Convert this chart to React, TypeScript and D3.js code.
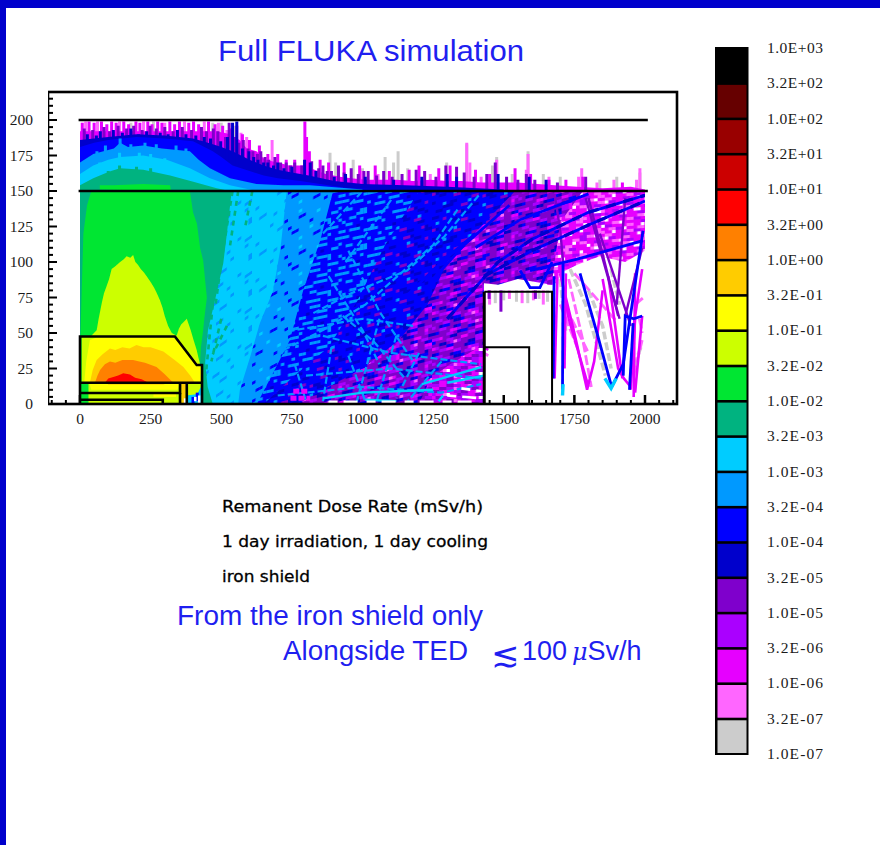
import React from "react";
import * as d3 from "d3";

const width = 880;
const height = 845;

type Pt = [number, number];

const scaleLabels = ["1.0E+03","3.2E+02","1.0E+02","3.2E+01","1.0E+01","3.2E+00","1.0E+00","3.2E-01","1.0E-01","3.2E-02","1.0E-02","3.2E-03","1.0E-03","3.2E-04","1.0E-04","3.2E-05","1.0E-05","3.2E-06","1.0E-06","3.2E-07","1.0E-07"];
const scaleColors = ["#000000","#660000","#990000","#cc0000","#ff0000","#ff8000","#ffcc00","#ffff00","#ccff00","#00e633","#00b380","#00ccff","#0099ff","#0000ff","#0000cc","#7f00cc","#aa00ff","#e600ff","#ff66ff","#cccccc"];

const RED = "#ff0000", ORANGE = "#ff8000", AMBER = "#ffcc00", YELLOW = "#ffff00", LIME = "#ccff00",
  GREEN = "#00e633", TEAL = "#00b380", CYAN = "#00ccff", SKY = "#0099ff", BLUE = "#0000ff",
  NAVY = "#0000cc", PURPLE = "#7f00cc", VIOLET = "#aa00ff", MAGENTA = "#e600ff", PINK = "#ff66ff", GRAY = "#cccccc";

// grain of the noisy MC cells, one letter per bin
const grainColors: Record<string, string> = { c: CYAN, s: SKY, b: BLUE, n: NAVY, p: PURPLE, v: VIOLET, m: MAGENTA, k: PINK, g: GRAY, w: "#ffffff" };
const grainCyan = [
  "cccccccccccccccccccscccc","ccccscccccccccccccccccss","ccccccccccsscccccccccccc","csccccccccccccccscccccc",
  "ccccccsscccccccccccccccc","cccccccccccccsccccssccc","sccccccccccccccccccccccc","cccccccccsscccccccsccccc",
  "ccccccccccccccscccccccccc","ccsscccccccccccccccccscc","cccccccccccsscccccccccc","cccccccccccccccccccscccc",
];
const grainSky = [
  "sssssssssbsssscssssssss","ssscssssssssssssssbbsss","ssssssbbsssssssssssssss","sssssssssssssscssssssbs",
  "sbssssssssbsssssssssss","ssssscssssssssbbssssss","ssssssssssssssssssscsss","ssbbsssssssbsssssssssss",
  "sssssssscssssssssbsssss","ssssssssssssbbsssssssss","sbsssssbssssssssscsssss","ssssssssssssssssssssbss",
];
const grainBlue = [
  "bbbsssbbbbbsbbbbssssbbbb","bssbbbbbsssbbbbbbbbsbbsb","bbbbsbbbbbbbbssssbbbbbbs","ssbbbbssssbbbbbbbbbsssbb",
  "bbbnbbbbbbsbbbsssbbbbbbb","bsssbbbsbbbbbbbbbbbsbbss","bbbbbssssbbbbnbbsssbbbbb","sbbbbbbbbbbssbbbbbbbbsss",
  "bbsssbbbbsbbbbbssssbbbbb","bbbbbbsbbbbbsssbbbbbbbsb","ssbbbbbbsssbbbbbbnbbssbb","bbbbssbbbbbbbbssbbbbbbbb",
];
const grainNavy = [
  "bbbnnnbbbbsbbbpnnbbbbbnb","bnnbbbbbppbbbbbbnnbbsbbb","bbbbsbbbbbbnnbbbbbbppbbb","nnbbbbppnbbbbbsbbbbbnnbb",
  "bbbpbbbbbnnbbbbppbbbbbbb","bsbbbnnbbbbbbbbbbnnbbpnb","bbbbbbbbppbbbsbbbbbbbbnn","pnbbbbbbbbnnbbbbppnbbbbb",
  "bbnnbbsbbbbbbbbbbbbnnbbb","bbbbbbppbbbbnnbbbsbbbbpb","nbbbbbbbbnnbbbbbbppnbbbb","bbbsbnnbbbbppbbbbbbbnnbb",
];
const grainPurple = [
  "pppvvpnnbpppvvmppnbbppvv","vpnbbpppmmvppppnnpvvppmp","ppvvppnbppvvkmppnnbpppvp","nbpppmmvppbnppvvpppmmppn",
  "ppppvvpnbbppmmvpppnbpvvp","vvmppnnpppvvppbbppvkppnb","bpppvvppmmppnbbpppvvppmm","ppnnpvkvppppvvmpnbbpppvv",
  "mvppbbppppnnvvmpppvvppnp","ppvvmmpppnbbpppkvvppnbbp","nbppppvvppmvvpnbppmmvppp","pvvppnbbpvvkmpppppvvnnpp",
];
const grainFringe = [
  "mmvvkkmmwwmmkkvvmmmmkwwk","vmmkkwmmmvvmmkkmmwmmmvvm","kkmmvvmmmkkwmmmvvkkmmmmw","wmmmmmkkvvmmwmmmkkmmvvkk",
  "mmkkwmmmmmvvkkmmmmwmkkvv","vvmmmmkkmmwmvvmmkkkmmmmw","mkkvvwmmmkkmmmmvvwmmmkkm","mmwmmmkkvvmmkkwmmmvvmmkk",
  "kkmmmvvmmwmkkmmmmvvkkwmm","wvvmmkkmmmmwmmmkkvvmmmkk","mmkkwmvvmmkkmmmwmkkmmvvm","vmmmmkkwmmmvvkkmmmmwmkkm",
];
const grainBottom = [
  "vvmmppvvmmkvvmmppvvmmwmv","mmppvvkmmvvppmmvvmwwmmvp","ppvmmmvvppmmkvvmmppvmmvv","vmmkwmmpvvmmppvvkmmvvppm",
  "mppvvmmvvppmmwwmvvmmppvv","vvmmppkmvvmmvvppmmkmvvpp","mmvvppmmwmmppvvmmvvppmmk","ppmmvvkmmppvvmmkwmmppvvm",
];

// contour regions below the y=150 line, back to front
const fringeLow: Pt[] = [[1640,150],[2000,150],[2000,108],[1930,100],[1840,104],[1760,98],[1700,92],[1680,84],[1640,84]];
const mixedLow: Pt[] = [[0,150],[1780,150],[1700,128],[1680,100],[1670,84],[1550,88],[1480,84],[1430,85],[1430,0],[0,0]];
const navyLow: Pt[] = [[0,150],[1540,150],[1420,125],[1300,100],[1230,70],[1130,45],[1000,25],[880,12],[770,0],[0,0]];
const bottomLow: Pt[] = [[1200,0],[1240,18],[1310,28],[1430,42],[1430,0]];
const blueLow: Pt[] = [[0,150],[1200,150],[1080,112],[980,72],[880,40],[760,20],[650,0],[0,0]];
const skyLow: Pt[] = [[0,150],[896,150],[850,115],[790,80],[743,45],[684,22],[626,0],[0,0]];
const cyanLow: Pt[] = [[0,150],[732,150],[710,110],[684,80],[637,57],[602,33],[566,10],[560,0],[0,0]];
const tealLow: Pt[] = [[0,150],[537,150],[520,120],[507,99],[480,75],[453,52],[443,29],[452,12],[470,0],[0,0]];
const greenLow: Pt[] = [[40,150],[389,150],[400,135],[414,127],[425,110],[436,101],[449,75],[440,60],[436,52],[428,40],[425,29],[434,0],[0,0],[2,50],[6,80],[12,120],[25,140]];
const limeHump: Pt[] = [[6,47],[40,48],[59,52],[66,60],[72,66],[78,72],[85,78],[94,83],[103,88],[112,95],[125,97],[142,100],[155,102],[165,104],[178,103],[188,105],[196,100],[205,98],[215,95],[225,93],[236,90],[250,86],[262,82],[272,78],[283,73],[292,68],[300,62],[312,55],[325,50],[342,48],[350,53],[358,56],[368,58],[378,60],[385,56],[392,52],[402,45],[413,38],[420,32],[425,28],[432,15],[6,15]];
const yellowCore: Pt[] = [[15,15],[22,30],[35,45],[60,47],[330,47],[420,28],[430,27],[430,15]];
const amberCore: Pt[] = [[35,15],[45,24],[59,31],[80,35],[106,39],[125,38],[150,40],[175,39],[200,41.5],[225,40],[250,40],[295,37],[335,31],[366,26],[390,20],[407,15]];
const orangeCore: Pt[] = [[53,15],[62,20],[71,24],[88,28],[106,30],[125,29],[150,31],[188,31],[210,30],[230,29],[271,26],[300,21],[330,15]];
const redCore: Pt[] = [[88,15],[100,18],[118,19],[135,20],[153,21.6],[177,20.7],[195,18.5],[218,17.5],[242,15]];
const greenStrip: Pt[] = [[0,8],[0,15],[30,15],[30,8]];
const limeStrip: Pt[] = [[18,8],[18,15],[354,15],[354,8]];
const yellowStrip: Pt[] = [[40,10],[32,15],[354,15],[345,10]];
const amberStrip: Pt[] = [[100,13.5],[95,15],[310,15],[295,13.5]];
const limeBase: Pt[] = [[30,0],[30,8],[354,8],[354,0]];
const yellowBase: Pt[] = [[260,5],[260,8],[340,8],[340,5]];
const amberPost: Pt[] = [[358,0],[358,15],[375,15],[375,0]];
const limePost: Pt[] = [[380,6],[380,15],[428,15],[428,10],[415,6]];
const cyanPost: Pt[] = [[380,0],[380,6],[415,7],[428,12],[430,0]];

// contour regions above the y=150 line
const magentaHigh: Pt[] = [[0,192],[480,192],[510,191],[530,190],[565,186],[590,180],[625,178],[655,172],[700,170],[740,168],[790,168],[830,165],[870,162],[920,160],[960,159],[1010,158],[1060,158],[1120,158],[1180,157],[1240,158],[1300,157],[1350,157],[1420,156],[1480,156],[1550,156],[1620,155],[1680,154],[1760,153],[1850,152],[1950,153],[2000,151],[2000,150],[0,150]];
const navyHigh: Pt[] = [[0,186],[100,188],[200,190],[300,189],[400,187],[435,185],[470,183],[500,181],[540,178],[600,172],[650,168],[700,165],[750,163],[810,161],[900,157],[1000,155],[1150,154],[1300,153],[1500,151],[1500,150],[0,150]];
const blueHigh: Pt[] = [[0,181],[50,184],[100,186],[200,188],[300,187],[400,185],[430,182],[470,178],[500,174],[540,168],[600,164],[650,161],[700,159],[780,157],[850,155],[950,152],[1100,151],[1100,150],[0,150]];
const skyHigh: Pt[] = [[0,170],[47,176],[83,178],[120,180],[142,184],[170,181],[224,182],[290,180],[389,178],[420,172],[460,166],[531,159],[625,155],[720,154],[814,154],[1000,151],[1000,150],[0,150]];
const cyanHigh: Pt[] = [[0,162],[47,168],[100,172],[142,174],[224,175],[307,172],[389,166],[460,159],[531,154],[625,150],[0,150]];
const tealHigh: Pt[] = [[0,154],[47,159],[83,162],[110,164],[142,166],[224,165],[319,161],[401,156.5],[484,152],[530,150],[0,150]];
const greenHigh: Pt[] = [[70,151],[70,154],[120,154],[224,155],[319,154],[322,150]];

// spikes above the y=150 line: [x, top]
const graySpikes: Pt[] = [[545,196],[590,184],[640,176],[670,172],[885,177],[905,170],[967,172],[1000,166],[1080,174],[1126,178],[1110,170],[1160,166],[1298,170],[1369,183],[1475,174],[1460,168],[1586,178],[1530,162],[1640,162],[1700,160],[1840,158],[1900,160],[1982,163],[500,198],[470,198],[180,198],[260,199]];
const pinkSpikes: Pt[] = [[20,199],[62,199],[140,199],[225,199],[300,198],[370,199],[440,199],[490,198],[520,193],[570,191],[590,188],[620,170],[680,186],[1000,164],[1055,162],[1369,184],[1380,170],[1475,172],[1586,176],[1580,165],[1776,166],[1765,160],[1982,166],[1970,158],[1890,158],[1830,156],[1660,160],[1420,160],[1240,162]];
const magentaSpikes: Pt[] = [[8,198],[32,199],[50,198],[76,199],[95,197],[112,199],[128,198],[155,199],[172,197],[198,199],[212,198],[240,199],[255,197],[275,199],[290,198],[318,199],[335,197],[352,199],[385,198],[402,199],[420,197],[455,199],[478,197],[505,196],[535,194],[555,196],[575,190],[600,186],[635,182],[665,176],[700,176],[730,172],[760,172],[796,199],[802,188],[812,178],[850,172],[880,170],[935,170],[990,168],[1045,168],[1095,164],[1165,165],[1200,168],[1270,166],[1310,168],[1400,165],[1450,162],[1540,166],[1595,162],[1660,158],[1720,158],[1780,160],[1920,156]];
const purpleSpikes: Pt[] = [[15,194],[45,193],[85,195],[105,192],[135,196],[165,194],[190,196],[220,193],[248,196],[270,194],[300,195],[330,192],[362,195],[395,193],[430,195],[448,192],[472,194],[488,192],[515,188],[528,198],[548,188],[562,184],[578,186],[595,180],[612,178],[628,176],[640,178],[655,174],[668,172],[690,174],[710,170],[730,170],[745,168],[760,170],[785,168],[820,171],[845,166],[860,168],[875,164],[890,164],[915,168],[935,163],[960,166],[985,162],[1005,164],[1020,164],[1050,161],[1075,164],[1105,160],[1140,162],[1190,165],[1220,164],[1260,160],[1295,168],[1333,167],[1360,163],[1395,160],[1440,162],[1470,170],[1510,160],[1550,158],[1580,162],[1610,158],[1690,156],[1790,160]];
const navySpikes: Pt[] = [[26,190],[58,189],[72,192],[118,193],[150,191],[180,194],[208,190],[236,192],[284,191],[312,190],[345,193],[375,190],[410,189],[440,188],[462,187],[498,185],[522,188],[540,198],[555,199],[575,180],[598,178],[615,174],[630,172],[650,170],[665,170],[685,168],[700,170],[722,166],[750,167],[795,172],[815,170],[835,164],[900,160],[940,162],[1010,160],[1110,158],[1210,160],[1300,162],[1333,160],[1480,162],[1590,160],[1650,158]];
const skySpikes: Pt[] = [[60,178],[90,182],[142,187],[180,183],[230,184],[270,183],[340,182],[375,180]];
const cyanSpikes: Pt[] = [[70,170],[140,177],[210,177],[250,176],[300,173]];
const tealSpikes: Pt[] = [[100,164],[140,168],[200,167],[250,166]];

// dose streaks below the y=150 line
const tealStreaks: Pt[][] = [[[540,150],[500,100]],[[520,130],[480,70]],[[470,70],[445,20]],[[560,150],[530,110]],[[500,60],[465,30]],[[520,55],[470,35]],[[610,150],[585,125]]];
const skyStreaks: Pt[][] = [[[826,64],[960,78],[1158,94],[1290,118],[1416,148]],[[720,38],[860,52],[1010,70],[1250,112],[1340,138]],[[880,90],[1000,52],[1060,28]],[[950,108],[1060,65],[1180,30]],[[930,62],[1040,44],[1150,18]],[[860,48],[1100,36],[1420,28]],[[800,20],[1100,25],[1420,18]],[[700,6],[1000,12],[1280,8],[1420,14]],[[700,50],[1000,60],[1180,55]],[[890,40],[860,2]],[[950,34],[1010,2]],[[1060,60],[980,2]],[[1120,48],[1050,2]],[[1200,36],[1120,4]],[[760,28],[800,2]],[[1280,30],[1160,2]],[[860,120],[1000,150]],[[940,100],[1110,146]]];
const cyanStreaks: Pt[][] = [[[860,4],[1000,8],[1250,10]],[[1210,14],[1420,26]],[[1300,15],[1430,20]],[[1010,3],[1120,2]],[[1270,2],[1285,6]]];
const blueStreaks: Pt[][] = [[[1430,90],[1600,108],[1800,126],[2000,143]],[[1300,60],[1480,100],[1600,116],[1800,135],[2000,147]],[[1593,94],[1760,102],[1993,115]],[[1558,94],[1593,82],[1628,82],[1671,100]],[[1770,92],[1830,50],[1882,12]],[[1882,12],[1923,28],[1993,122]],[[1923,20],[1930,62],[1960,60],[1990,62]],[[1958,57],[1945,10]],[[1710,100],[1708,10]],[[1678,90],[1675,18]],[[1400,110],[1560,130],[1800,148]],[[1250,88],[1360,112],[1520,140]],[[1150,75],[1280,100],[1400,120]]];
const navyStreaks: Pt[][] = [[[1680,148],[1700,122],[1710,100]],[[1790,145],[1910,60]],[[1930,145],[1900,70]],[[1800,145],[1905,62]],[[1840,120],[1950,55]],[[1990,110],[1930,62]]];
const cyanTips: Pt[][] = [[[1710,14],[1708,6]],[[1858,18],[1880,11],[1898,18]]];
const magentaBlobs: Pt[][] = [[[745,4],[815,4]],[[755,9],[810,9]]];
const magentaStreaks: Pt[][] = [[[1699,92],[1750,50],[1795,10],[1820,30],[1850,80]],[[1850,88],[1905,25],[1925,18],[1950,12],[1965,60]],[[1870,90],[1920,18]],[[1990,62],[1965,8]],[[1690,90],[1680,18]],[[1965,92],[1960,5]],[[1720,92],[1715,25]],[[1430,40],[1445,38]],[[1700,95],[1730,60],[1800,12]],[[1990,95],[1960,55]]];
const pinkStreaks: Pt[][] = [[[1730,88],[1780,45],[1810,12]],[[1990,45],[1960,20]],[[1980,60],[1990,50]],[[1740,60],[1800,36]],[[1430,36],[1445,34]],[[1750,92],[1900,58]],[[1700,70],[1760,40]],[[1965,70],[1995,75]]];
const grayStreaks: Pt[][] = [[[1735,95],[1790,70],[1860,20]],[[1800,80],[1850,55],[1880,25]],[[1700,88],[1720,50]],[[1880,95],[1910,70]],[[1985,40],[1955,22]]];
const grayFringe: Pt[][] = [[[1470,80],[1470,71]],[[1500,80],[1500,73]],[[1545,80],[1545,72]],[[1585,80],[1585,71]],[[1625,80],[1625,74]],[[1655,80],[1655,72]]];
const pinkFringe: Pt[][] = [[[1450,80],[1450,70]],[[1520,80],[1520,74]],[[1565,80],[1565,71]],[[1605,80],[1605,73]],[[1640,80],[1640,70]]];
const purpleFringe: Pt[][] = [[[1490,80],[1490,65]],[[1448,80],[1448,74]],[[1612,80],[1612,74]]];
const whiteGaps: Pt[][] = [[[880,1.5],[1400,1.5]],[[1300,6],[1420,4]],[[1350,11],[1420,9]]];
const bluePosts: Pt[][] = [[[400,0],[400,5]],[[415,2],[415,8]]];
const whitePosts: Pt[][] = [[[372,0],[372,4]],[[422,0],[422,6]],[[408,2],[408,5]]];

const yTicks = [0, 25, 50, 75, 100, 125, 150, 175, 200];
const xTicks = [0, 250, 500, 750, 1000, 1250, 1500, 1750, 2000];

const xScale = d3.scaleLinear().domain([0, 2000]).range([80, 645]);
const yScale = d3.scaleLinear().domain([0, 200]).range([404, 120]);
const barScale = d3.scalePoint<string>().domain(scaleLabels).range([48, 754]);

const area = d3.line<Pt>().x((d) => xScale(d[0])).y((d) => yScale(d[1]));

const Region = ({ pts, fill }: { pts: Pt[]; fill: string }) => <path d={area(pts) + "Z"} fill={fill} />;

const Streaks = ({ lines, color, w = 2.4, dash }: { lines: Pt[][]; color: string; w?: number; dash?: string }) => (
  <g fill="none" stroke={color} strokeWidth={w} strokeDasharray={dash}>
    {lines.map((l, i) => <path key={i} d={area(l) as string} />)}
  </g>
);

const Spikes = ({ items, color, w = 3 }: { items: Pt[]; color: string; w?: number }) => (
  <g stroke={color} strokeWidth={w}>
    {items.map((d, i) => (
      <line key={i} x1={xScale(d[0])} x2={xScale(d[0])} y1={yScale(150)} y2={yScale(d[1])} />
    ))}
  </g>
);

const Shield = ({ pts, w = 2.6 }: { pts: Pt[]; w?: number }) => <path d={area(pts) as string} fill="none" stroke="#000" strokeWidth={w} />;

const Grain = ({ id, rows, skew }: { id: string; rows: string[]; skew: number }) => {
  const cw = 3.6, ch = 3;
  const cols = d3.max(rows, (r) => r.length) as number;
  return (
    <pattern id={id} patternUnits="userSpaceOnUse" width={cols * cw} height={rows.length * ch} patternTransform={`skewY(${skew})`}>
      <rect width={cols * cw} height={rows.length * ch} fill={grainColors[rows[0][0]]} />
      {rows.map((r, j) =>
        r.split("").map((c, i) => <rect key={`${i}-${j}`} x={i * cw} y={j * ch} width={cw + 0.2} height={ch + 0.2} fill={grainColors[c]} />)
      )}
    </pattern>
  );
};

export default function App() {
  const bandH = barScale.step();
  return (
    <svg width={width} height={height} style={{ position: "absolute", left: 0, top: 0 }}>
      <defs>
        <clipPath id="plot"><rect x={xScale(0)} y={yScale(199.5)} width={xScale(2000) - xScale(0)} height={yScale(0) - yScale(199.5)} /></clipPath>
        <clipPath id="low"><rect x={xScale(0)} y={yScale(150)} width={xScale(2000) - xScale(0)} height={yScale(0) - yScale(150)} /></clipPath>
        <filter id="soft" x="0" y="0" width="100%" height="100%"><feGaussianBlur stdDeviation="0.55" /></filter>
        <Grain id="gCyan" rows={grainCyan} skew={-35} />
        <Grain id="gSky" rows={grainSky} skew={-28} />
        <Grain id="gBlue" rows={grainBlue} skew={-12} />
        <Grain id="gNavy" rows={grainNavy} skew={-15} />
        <Grain id="gPurple" rows={grainPurple} skew={-14} />
        <Grain id="gFringe" rows={grainFringe} skew={-4} />
        <Grain id="gBottom" rows={grainBottom} skew={0} />
      </defs>
      <rect width={width} height={height} fill="#fff" />
      <rect width={width} height={8} fill="#0000cc" />
      <rect width={6} height={height} fill="#0000cc" />

      <g filter="url(#soft)">
        {/* axis ticks, the map covers most of them */}
        <g stroke="#000">
          {d3.range(-100, 2101, 50).map((t) => (
            <line key={t} x1={xScale(t)} x2={xScale(t)} y1={404} y2={t % 250 === 0 ? 395 : 400} strokeWidth={t % 250 === 0 ? 2.5 : 2} />
          ))}
          {d3.range(0, 216, 5).map((t) => (
            <line key={t} x1={48} x2={t % 25 === 0 ? 57 : 53} y1={yScale(t)} y2={yScale(t)} strokeWidth={2} />
          ))}
        </g>

        <g clipPath="url(#plot)">
          <Spikes items={graySpikes} color={GRAY} />
          <Spikes items={pinkSpikes} color={PINK} />
          <Region pts={magentaHigh} fill={MAGENTA} />
          <Spikes items={magentaSpikes} color={MAGENTA} />
          <Spikes items={purpleSpikes} color={PURPLE} />
          <Region pts={navyHigh} fill={NAVY} />
          <Spikes items={navySpikes} color={NAVY} />
          <Region pts={blueHigh} fill={BLUE} />
          <Spikes items={skySpikes} color={SKY} />
          <Region pts={skyHigh} fill={SKY} />
          <Spikes items={cyanSpikes} color={CYAN} />
          <Region pts={cyanHigh} fill={CYAN} />
          <Spikes items={tealSpikes} color={TEAL} />
          <Region pts={tealHigh} fill={TEAL} />
          <Region pts={greenHigh} fill={GREEN} />
        </g>

        <g clipPath="url(#low)">
          <Region pts={fringeLow} fill="url(#gFringe)" />
          <Region pts={mixedLow} fill="url(#gPurple)" />
          <Region pts={bottomLow} fill="url(#gBottom)" />
          <Region pts={navyLow} fill="url(#gNavy)" />
          <Region pts={blueLow} fill="url(#gBlue)" />
          <Region pts={skyLow} fill="url(#gSky)" />
          <Streaks lines={skyStreaks} color={SKY} dash="7 3" w={2.2} />
          <Region pts={cyanLow} fill="url(#gCyan)" />
          <Streaks lines={cyanStreaks} color={CYAN} w={2.4} />
          <Streaks lines={magentaBlobs} color={MAGENTA} dash="6 2" w={5} />
          <Streaks lines={whiteGaps} color="#fff" dash="9 6 14 9" w={2.6} />
          <Region pts={tealLow} fill={TEAL} />
          <Streaks lines={tealStreaks} color={TEAL} dash="5 5" w={2.6} />
          <Region pts={greenLow} fill={GREEN} />
          <Region pts={limeHump} fill={LIME} />
          <Region pts={yellowCore} fill={YELLOW} />
          <Region pts={amberCore} fill={AMBER} />
          <Region pts={orangeCore} fill={ORANGE} />
          <Region pts={redCore} fill={RED} />
          <Region pts={limeStrip} fill={LIME} />
          <Region pts={greenStrip} fill={GREEN} />
          <Region pts={yellowStrip} fill={YELLOW} />
          <Region pts={amberStrip} fill={AMBER} />
          <Region pts={limeBase} fill={LIME} />
          <Region pts={yellowBase} fill={YELLOW} />
          <Region pts={amberPost} fill={AMBER} />
          <Region pts={limePost} fill={LIME} />
          <Region pts={cyanPost} fill={CYAN} />
          <Streaks lines={bluePosts} color={BLUE} w={3} />
          <Streaks lines={whitePosts} color="#fff" w={2.5} />
          <Streaks lines={grayStreaks} color={GRAY} dash="8 3" w={3.5} />
          <Streaks lines={grayFringe} color={GRAY} w={3} />
          <Streaks lines={pinkFringe} color={PINK} w={3} />
          <Streaks lines={purpleFringe} color={PURPLE} w={3} />
          <Streaks lines={pinkStreaks} color={PINK} w={2.8} dash="10 3" />
          <Streaks lines={magentaStreaks} color={MAGENTA} w={2.6} />
          <Streaks lines={navyStreaks} color={PURPLE} w={2.4} />
          <Streaks lines={blueStreaks} color={BLUE} w={2.8} />
          <Streaks lines={blueStreaks.slice(0, 2)} color={NAVY} w={3.2} dash="10 8" />
          <Streaks lines={cyanTips} color={CYAN} w={3.4} />
        </g>

        {/* geometry outlines */}
        <Shield pts={[[-5, 200], [2010, 200]]} />
        <Shield pts={[[-5, 150], [2010, 150]]} />
        <Shield pts={[[0, 0], [0, 47.5], [336, 47.5], [413, 27.5], [432, 27.5], [432, 0]]} />
        <Shield pts={[[0, 15], [432, 15]]} />
        <Shield pts={[[0, 7.7], [354, 7.7], [354, 15]]} />
        <Shield pts={[[354, 7.7], [354, 0]]} />
        <Shield pts={[[378, 15], [378, 0]]} />
        <Shield pts={[[0, 3], [293, 3], [293, 0]]} />
        <Shield pts={[[1431, 0], [1431, 79]]} w={3} />
        <Shield pts={[[1431, 79], [1671, 79], [1671, 0]]} w={2} />
        <Shield pts={[[1431, 40], [1590, 40], [1590, 0]]} w={2} />

        <rect x={48} y={92} width={629} height={312} fill="none" stroke="#000" strokeWidth={2.6} />

        {/* colour bar */}
        <rect x={715} y={47} width={33.5} height={708} fill="#000" />
        {scaleColors.map((c, i) => (
          <rect key={c} x={717.5} width={29} y={(barScale(scaleLabels[i]) as number) + 1.6} height={bandH - 2.6} fill={c} />
        ))}
      </g>

      <g fontFamily="'Liberation Serif', serif" fontSize={15.5} fill="#1a1a1a">
        {yTicks.map((t) => (
          <text key={t} x={33} y={yScale(t) + 5} textAnchor="end">{t}</text>
        ))}
        {xTicks.map((t) => (
          <text key={t} x={xScale(t)} y={424} textAnchor="middle">{t}</text>
        ))}
        {scaleLabels.map((s) => (
          <text key={s} x={767} y={(barScale(s) as number) + 5} fontSize={15.5} textLength={56}>{s}</text>
        ))}
      </g>

      <g fontFamily="'Liberation Sans', sans-serif" fill="#1f1ff0">
        <text x={218} y={61} fontSize={30} textLength={306} lengthAdjust="spacingAndGlyphs">Full FLUKA simulation</text>
        <text x={177} y={625} fontSize={27} textLength={306} lengthAdjust="spacingAndGlyphs">From the iron shield only</text>
        <text x={283} y={660} fontSize={27} textLength={185} lengthAdjust="spacingAndGlyphs">Alongside TED</text>
        <text x={491} y={666} fontSize={34} fontFamily="'DejaVu Sans', sans-serif">≲</text>
        <text x={522} y={660} fontSize={27}>100</text>
        <text x={572} y={660} fontSize={27}><tspan fontFamily="'DejaVu Serif', serif" fontStyle="italic" fontSize={24}>μ</tspan>Sv/h</text>
      </g>

      <g fontFamily="'DejaVu Sans', sans-serif" fontSize={16} fill="#000" stroke="#000" strokeWidth={0.3}>
        <text x={222} y={512} textLength={261} lengthAdjust="spacingAndGlyphs">Remanent Dose Rate (mSv/h)</text>
        <text x={222} y={547} textLength={266} lengthAdjust="spacingAndGlyphs">1 day irradiation, 1 day cooling</text>
        <text x={222} y={582} textLength={88} lengthAdjust="spacingAndGlyphs">iron shield</text>
      </g>
    </svg>
  );
}
